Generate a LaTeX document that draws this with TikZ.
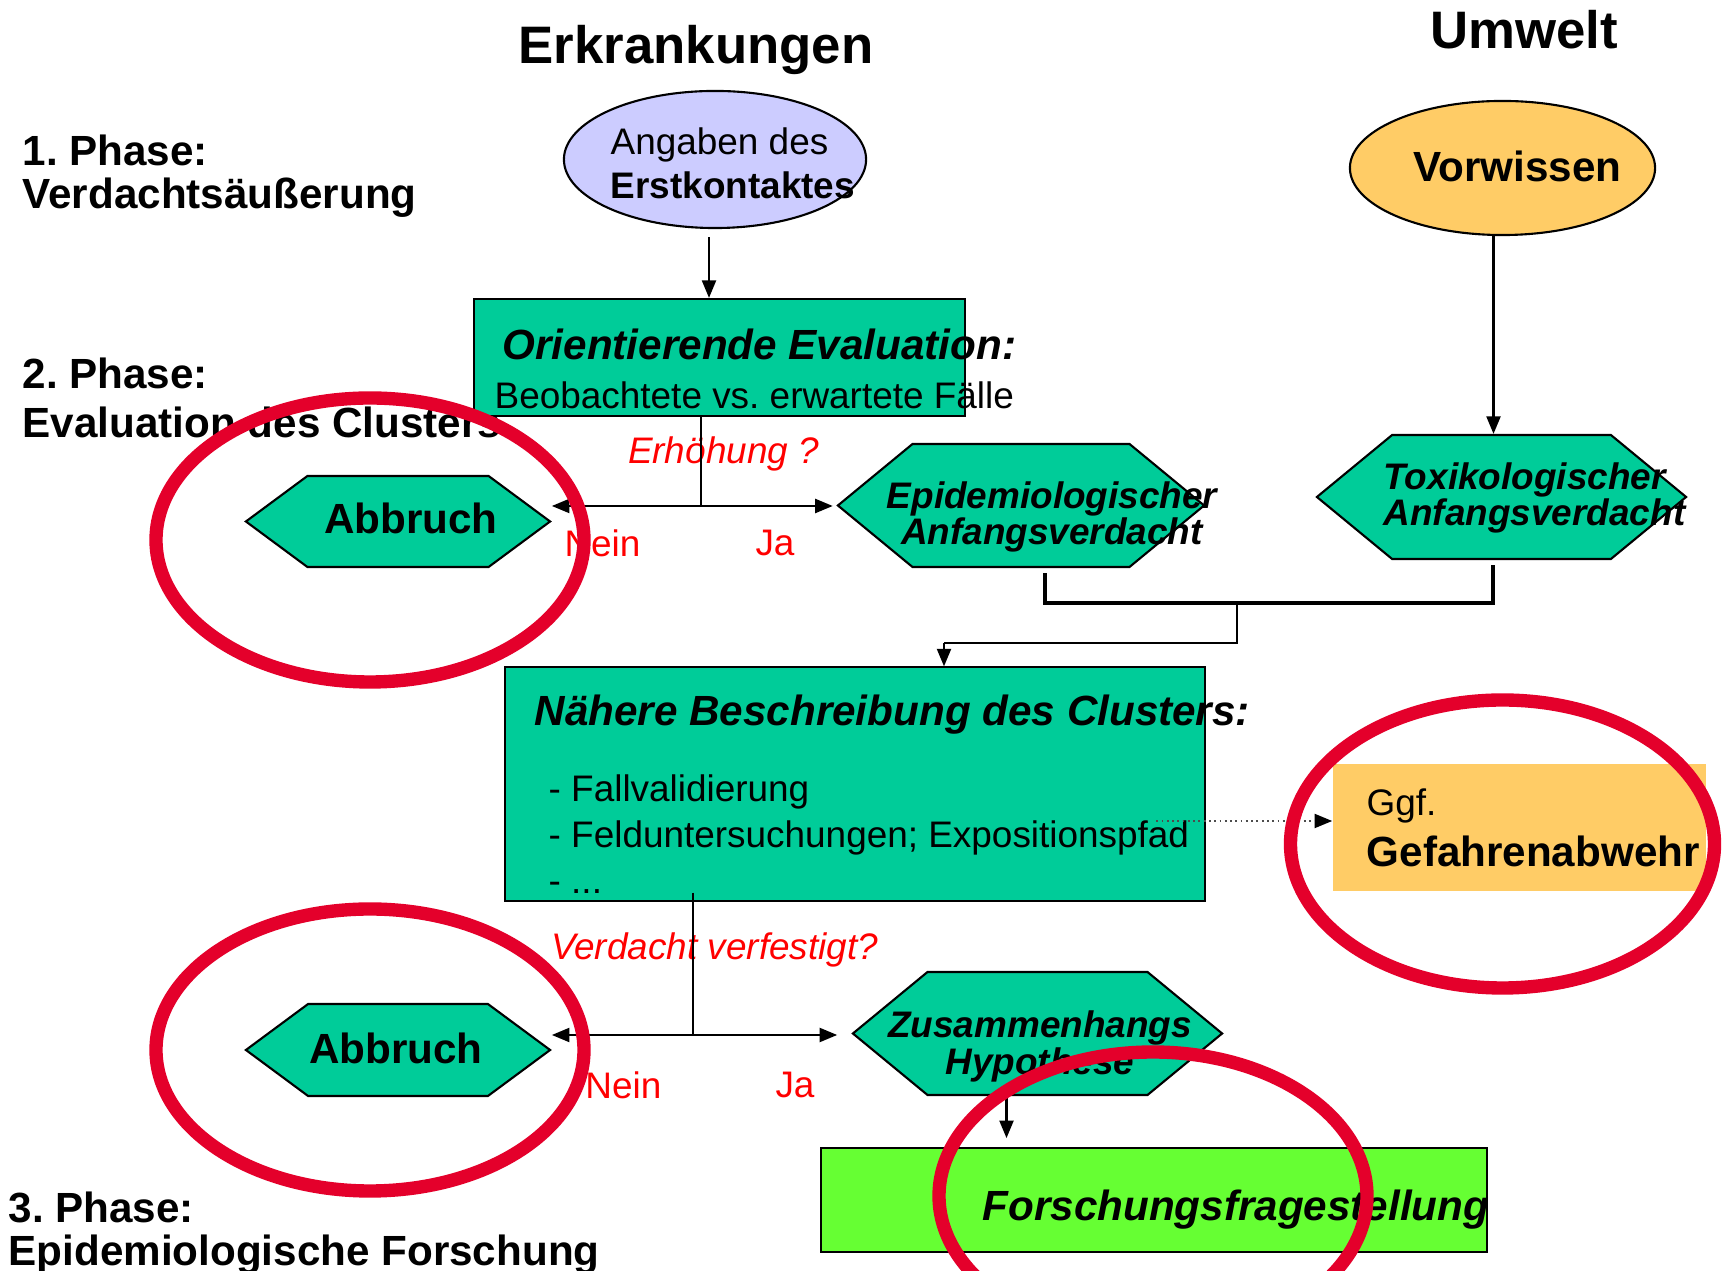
\documentclass[tikz,border=0pt]{standalone}
\usepackage{fontspec}
\setmainfont{Liberation Sans}
\usetikzlibrary{arrows.meta,shapes.geometric,shapes.symbols}
\frenchspacing

\definecolor{tealbox}{HTML}{00CC99}
\definecolor{lilac}{HTML}{CCCCFF}
\definecolor{apricot}{HTML}{FFCC66}
\definecolor{limebox}{HTML}{66FF33}
\definecolor{ringred}{HTML}{E4002B}

\newcommand\fntTitle{\fontsize{15}{15}\selectfont\bfseries}
\newcommand\fntPhase{\fontsize{12}{12.2}\selectfont\bfseries}
\newcommand\fntMid{\fontsize{10.5}{12.5}\selectfont}
\newcommand\fntHex{\fontsize{10.5}{10.5}\selectfont\bfseries\itshape}
\newcommand\fntBI{\fontsize{12}{13}\selectfont\bfseries\itshape}
\newcommand\fntBold{\fontsize{12}{13}\selectfont\bfseries}

\tikzset{
  box/.style={draw, line width=0.6pt, fill=tealbox, inner sep=0pt},
  oval/.style={ellipse, draw, line width=0.6pt, inner sep=0pt},
  hexa/.style={shape=signal, signal to=east and west, draw, line width=0.6pt, fill=tealbox, inner sep=0pt},
  txt/.style={anchor=west, inner sep=0pt, align=left},
  phase/.style={anchor=west, inner sep=0pt, align=left, font=\fntPhase},
  redtxt/.style={inner sep=0pt, text=red, font=\fntMid},
  link/.style={line width=0.6pt},
  bus/.style={line width=0.9pt},
  arr/.style={line width=0.6pt, -{Triangle[length=5pt,width=4pt]}},
  dotarr/.style={line width=0.5pt, densely dotted, draw=black!70, -{Triangle[length=5pt,width=4pt,color=black]}},
  ring/.style={draw=ringred, line width=3.8pt},
}

\begin{document}
\begin{tikzpicture}[x=0.01cm,y=-0.01cm]
	%%%%% START %%%%%
	\useasboundingbox (0,0) rectangle (1724,1271);
	\fill[white] (0,0) rectangle (1724,1271);
	
	\node[font=\fntTitle] (erkr) at (696,50) {Erkrankungen};
	\node[font=\fntTitle] (umwelt) at (1524,30) {Umwelt};
	
	\node[phase] (phaseA) at (22,176) {1. Phase:\\Verdachtsäußerung};
	\node[phase] (phaseB) at (22,398) {2. Phase:\\[1.5pt]Evaluation des Clusters};
	\node[phase] (phaseC) at (8,1233) {3. Phase:\\Epidemiologische Forschung};
	
	%%%%% Phase 1 %%%%%
	\node[oval, fill=lilac, minimum width=3.02cm, minimum height=1.37cm] (angaben) at (715,159.5) {};
	\node[txt, font=\fntMid] (angabentxt) at (610,163) {Angaben des\\\textbf{Erstkontaktes}};
	
	\node[oval, fill=apricot, minimum width=3.05cm, minimum height=1.34cm] (vorwissen) at (1502.5,168) {};
	\node[txt, font=\fntBold] (vorwissentxt) at (1413,166) {Vorwissen};
	
	%%%%% Phase 2 %%%%%
	\node[box, minimum width=4.91cm, minimum height=1.17cm] (orient) at (719.5,357.5) {};
	\node[txt, font=\fntBI] (orienttitle) at (502,344) {Orientierende Evaluation:};
	\node[txt, font=\fntMid] (orientsub) at (494,395) {Beobachtete vs. erwartete Fälle};
	
	\node[hexa, minimum width=3.04cm, minimum height=0.91cm, signal pointer angle=73] (abbruchA) at (398,521.5) {};
	\node[font=\fntBold, inner sep=0pt] (abbruchAtxt) at (411,518) {Abbruch};
	
	\node[hexa, minimum width=3.66cm, minimum height=1.23cm, signal pointer angle=79] (epi) at (1021,505.5) {};
	\node[font=\fntHex, align=center, inner sep=0pt] (epitxt) at (1052,517) {Epidemiologischer\\Anfangsverdacht};
	
	\node[hexa, minimum width=3.69cm, minimum height=1.24cm, signal pointer angle=79] (tox) at (1501.5,497) {};
	\node[txt, font=\fntHex] (toxtxt) at (1383,498) {Toxikologischer\\Anfangsverdacht};
	
	\node[redtxt] (erhoehung) at (723.5,454) {\itshape Erhöhung ?};
	\node[redtxt] (neinA) at (602.5,543) {Nein};
	\node[redtxt] (jaA) at (775,543) {Ja};
	
	\node[box, minimum width=7.00cm, minimum height=2.33cm] (naehere) at (855,784) {};
	\node[txt, font=\fntBI] (naeheretitle) at (534,715) {Nähere Beschreibung des Clusters:};
	\node[txt, font=\fontsize{10.5}{13.1}\selectfont] (naeherelist) at (548,834) {- Fallvalidierung\\- Felduntersuchungen; Expositionspfad\\- ...};
	
	\node[fill=apricot, minimum width=3.73cm, minimum height=1.27cm, inner sep=0pt] (gefahr) at (1519.5,827.5) {};
	\node[txt, font=\fntMid] (gefahrA) at (1366,806) {Ggf.};
	\node[txt, font=\fntBold] (gefahrB) at (1366,851) {Gefahrenabwehr};
	
	%%%%% Phase 3 %%%%%
	\node[hexa, minimum width=3.04cm, minimum height=0.92cm, signal pointer angle=73] (abbruchB) at (398,1050) {};
	\node[font=\fntBold, inner sep=0pt] (abbruchBtxt) at (396,1048) {Abbruch};
	
	\node[hexa, minimum width=3.69cm, minimum height=1.23cm, signal pointer angle=79] (zush) at (1037.5,1033.5) {};
	\node[font=\fntHex, align=center, inner sep=0pt] (zushtxt) at (1040,1046) {Zusammenhangs\\Hypothese};
	
	\node[redtxt] (verdacht) at (714.7,950) {\itshape Verdacht verfestigt?};
	\node[redtxt] (neinB) at (623.4,1085) {Nein};
	\node[redtxt] (jaB) at (795,1085) {Ja};
	
	\node[draw, line width=0.6pt, fill=limebox, minimum width=6.66cm, minimum height=1.04cm, inner sep=0pt] (forschung) at (1154,1200) {};
	\node[txt, font=\fntBI] (forschungtxt) at (982,1210) {Forschungsfragestellung};
	
	%%%%% connectors %%%%%
	\draw[arr] ([shift={(-6,8)}]angaben.south) coordinate (a1) -- (a1 |- orient.north);
	\draw[arr] ([shift={(-9,0)}]vorwissen.south) coordinate (v1) -- (v1 |- tox.north);
	
	\coordinate (jA) at (701,506);
	\draw[link] (jA |- orient.south) -- (jA);
	\draw[arr] (jA) -- (abbruchA.east |- jA);
	\draw[arr] (jA) -- ([xshift=-1pt]epi.west |- jA);
	
	\coordinate (bL) at (1045,603);
	\coordinate (bR) at (1493,603);
	\coordinate (bM) at (1237,603);
	\coordinate (bK) at (944,643);
	\draw[bus] (bL |- epi.south) ++(0,5) -- (bL) -- (bR) -- ++(0,-38);
	\draw[link] (bM) -- (bM |- bK) -- (bK);
	\draw[arr] (bK) -- (bK |- naehere.north);
	
	\draw[dotarr] ([shift={(-50,37)}]naehere.east) coordinate (d1) -- (d1 -| gefahr.west);
	
	\coordinate (jB) at (693,1035);
	\draw[link] (jB |- naehere.south) ++(0,-9) -- (jB);
	\draw[arr] (jB) -- (abbruchB.east |- jB);
	\draw[arr] (jB) -- ([xshift=-4pt]zush.west |- jB);
	
	\draw[arr, shorten >=2.5pt] ([shift={(-31,-12)}]zush.south) coordinate (z1) -- (z1 |- forschung.north);
	
	%%%%% rings %%%%%
	\draw[ring] (370,540) ellipse [x radius=214, y radius=142];
	\draw[ring] (370,1050) ellipse [x radius=214, y radius=141];
	\draw[ring] (1502.5,844) ellipse [x radius=212, y radius=144];
	\draw[ring] (1153,1196) ellipse [x radius=214, y radius=144];
	
	%%%%% END %%%%%
\end{tikzpicture}
\end{document}
